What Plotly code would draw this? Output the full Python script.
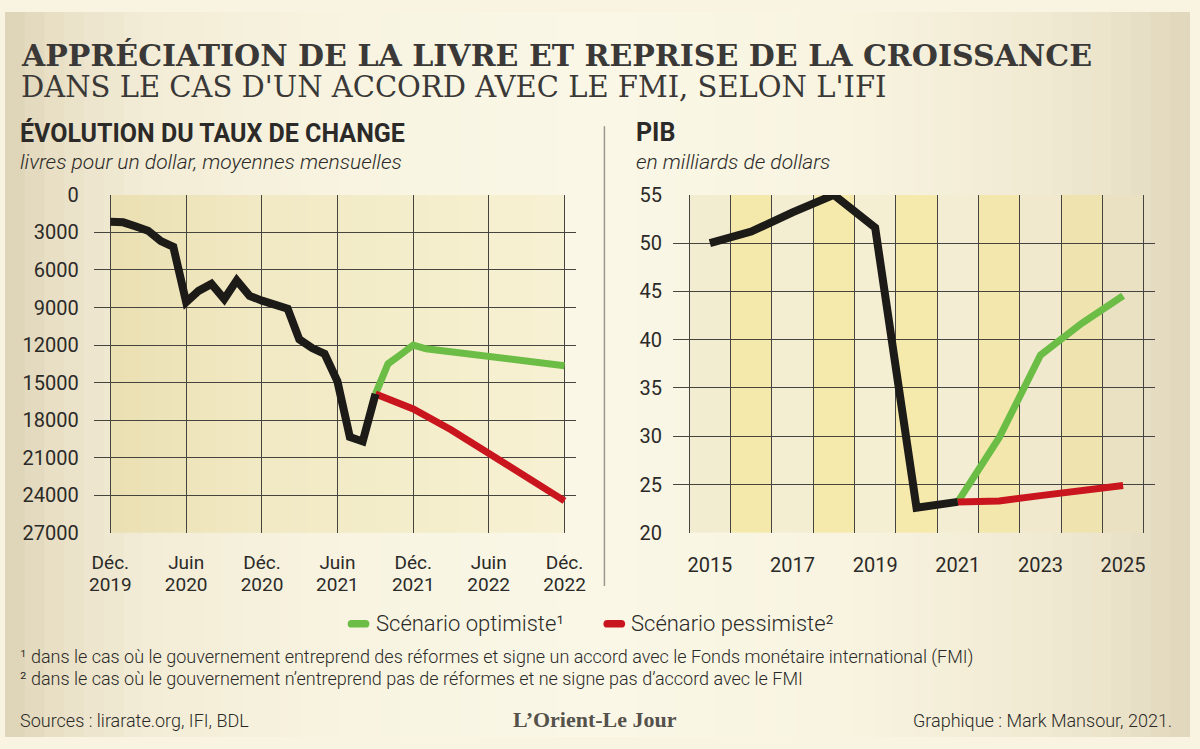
import plotly.graph_objects as go

# ---------------- DATA ----------------
# Left chart: exchange rate (LBP per USD, monthly averages)
fx_months = ["2019-12-01", "2020-01-01", "2020-02-01", "2020-03-01", "2020-04-01", "2020-05-01",
             "2020-06-01", "2020-07-01", "2020-08-01", "2020-09-01", "2020-10-01", "2020-11-01",
             "2020-12-01", "2021-01-01", "2021-02-01", "2021-03-01", "2021-04-01", "2021-05-01",
             "2021-06-01", "2021-07-01", "2021-08-01", "2021-09-01"]
fx_rate = [2150, 2190, 2520, 2860, 3690, 4150, 8580, 7670, 7110, 8320, 6830, 8070,
           8450, 8760, 9100, 11540, 12240, 12700, 14900, 19350, 19700, 15900]

opt_months = ["2021-09-01", "2021-10-01", "2021-11-01", "2021-12-01", "2022-01-01", "2022-06-01", "2022-12-01"]
opt_rate = [15900, 13500, 12750, 12000, 12300, 12880, 13650]

pes_months = ["2021-09-01", "2021-10-01", "2021-11-01", "2021-12-01", "2022-03-01", "2022-06-01",
              "2022-09-01", "2022-12-01"]
pes_rate = [15900, 16300, 16600, 17100, 18750, 20650, 22500, 24450]

fx_tick_dates = ["2019-12-01", "2020-06-01", "2020-12-01", "2021-06-01", "2021-12-01", "2022-06-01", "2022-12-01"]
fx_tick_month = ["Déc.", "Juin", "Déc.", "Juin", "Déc.", "Juin", "Déc."]
fx_tick_year = ["2019", "2020", "2020", "2021", "2021", "2022", "2022"]
fx_yticks = [0, 3000, 6000, 9000, 12000, 15000, 18000, 21000, 24000, 27000]

# Right chart: GDP (billion USD)
gdp_years = [2015, 2016, 2017, 2018, 2019, 2020, 2021]
gdp_hist = [50.0, 51.2, 53.2, 55.0, 51.6, 22.6, 23.2]
scen_years = [2021, 2022, 2023, 2024, 2025]
gdp_opt = [23.2, 29.85, 38.4, 41.7, 44.55]
gdp_pes = [23.2, 23.3, 23.85, 24.35, 24.9]
gdp_xticks = [2015, 2017, 2019, 2021, 2023, 2025]
gdp_yticks = [20, 25, 30, 35, 40, 45, 50, 55]
gdp_columns = list(range(2015, 2026))

# ---------------- STYLE ----------------
W, H = 1200, 749
BLACK = "#1d1b18"
GREEN = "#6cbd45"
RED = "#c9161e"
GRID = "#46443f"
TXT = "#2b2a28"
TICKFONT = dict(family="Roboto", size=20, color=TXT)
XTICKFONT = dict(family="Roboto", size=19, color=TXT)


def px(x):
    return x / W


def py(y):
    return 1 - y / H


def hex2rgb(h):
    h = h.lstrip("#")
    return [int(h[i:i + 2], 16) for i in (0, 2, 4)]


def interp(stops, t):
    for (t0, c0), (t1, c1) in zip(stops[:-1], stops[1:]):
        if t0 <= t <= t1:
            f = 0 if t1 == t0 else (t - t0) / (t1 - t0)
            a, b = hex2rgb(c0), hex2rgb(c1)
            return "rgb(%d,%d,%d)" % tuple(round(a[i] + (b[i] - a[i]) * f) for i in range(3))
    return stops[-1][1]


shapes = []
# paper gradient (vertical strips)
paper_stops = [(0, "#ddd2b6"), (60, "#eae1c8"), (150, "#f3edd7"), (350, "#f8f4e1"), (600, "#faf7e7"),
               (850, "#f8f4e0"), (1050, "#f1ead3"), (1140, "#e9e1c7"), (1200, "#e0d6bb")]
n = 60
for i in range(n):
    x0 = W * i / n
    x1 = W * (i + 1) / n + 1
    c = interp(paper_stops, (x0 + x1) / 2)
    shapes.append(dict(type="rect", xref="paper", yref="paper", x0=px(x0), x1=min(1, px(x1)), y0=0, y1=1,
                       fillcolor=c, line=dict(width=0), layer="below"))

# left plot background gradient between first and last date gridlines
left_stops = [(0, "#eadfb2"), (0.3, "#f1e9c3"), (1, "#f7f1d3")]
d0, d1 = 0.0346, 0.9764
m = 30
for i in range(m):
    a = d0 + (d1 - d0) * i / m
    b = d0 + (d1 - d0) * (i + 1) / m + 0.002
    c = interp(left_stops, (i + 0.5) / m)
    shapes.append(dict(type="rect", xref="x domain", yref="y domain", x0=a, x1=min(b, d1), y0=0, y1=1,
                       fillcolor=c, line=dict(width=0), layer="below"))

# right plot alternating year columns
col_colors = ["#f2ecd0", "#f4e8ab", "#f3edd2", "#f5e9ab", "#f4eed3", "#f5e9ac",
              "#f3eed3", "#f3e7ad", "#f0e9cd", "#efe3b0", "#eae1c3"]
for yr, c in zip(gdp_columns, col_colors):
    shapes.append(dict(type="rect", xref="x2", yref="y2", x0=yr - 0.5, x1=yr + 0.5, y0=20, y1=55,
                       fillcolor=c, line=dict(width=0), layer="below"))

# divider
shapes.append(dict(type="line", xref="paper", yref="paper", x0=px(607), x1=px(607), y0=py(118), y1=py(593),
                   line=dict(color="#9c978c", width=1.5)))


def pill(x0, x1, yc, h, color):
    r = h / 2
    pts = lambda x, y: "%.5f,%.5f" % (px(x), py(y))
    path = ("M " + pts(x0 + r, yc - r) + " L " + pts(x1 - r, yc - r) +
            " Q " + pts(x1, yc - r) + " " + pts(x1, yc) +
            " Q " + pts(x1, yc + r) + " " + pts(x1 - r, yc + r) +
            " L " + pts(x0 + r, yc + r) +
            " Q " + pts(x0, yc + r) + " " + pts(x0, yc) +
            " Q " + pts(x0, yc - r) + " " + pts(x0 + r, yc - r) + " Z")
    return dict(type="path", xref="paper", yref="paper", path=path, fillcolor=color, line=dict(width=0))


shapes.append(pill(347, 369, 632, 8, GREEN))
shapes.append(pill(606, 628, 632, 8, RED))

# ---------------- TRACES ----------------
fig = go.Figure()
line_common = dict(mode="lines", showlegend=False, hoverinfo="skip")
fig.add_trace(go.Scatter(x=opt_months, y=opt_rate, line=dict(color=GREEN, width=7), xaxis="x", yaxis="y", **line_common))
fig.add_trace(go.Scatter(x=pes_months, y=pes_rate, line=dict(color=RED, width=7), xaxis="x", yaxis="y", **line_common))
fig.add_trace(go.Scatter(x=fx_months, y=fx_rate, line=dict(color=BLACK, width=8), xaxis="x", yaxis="y", **line_common))
# invisible anchor for the year-label axis
fig.add_trace(go.Scatter(x=[fx_months[0]], y=[0], mode="markers", marker=dict(opacity=0), xaxis="x3", yaxis="y",
                         showlegend=False, hoverinfo="skip"))

fig.add_trace(go.Scatter(x=scen_years, y=gdp_opt, line=dict(color=GREEN, width=7), xaxis="x2", yaxis="y2", **line_common))
fig.add_trace(go.Scatter(x=scen_years, y=gdp_pes, line=dict(color=RED, width=7), xaxis="x2", yaxis="y2", **line_common))
fig.add_trace(go.Scatter(x=gdp_years, y=gdp_hist, line=dict(color=BLACK, width=8), xaxis="x2", yaxis="y2", **line_common))

YDOM = [0.2817, 0.7477]
XR_LEFT = ["2019-10-22", "2022-12-28"]

fig.update_layout(
    width=W, height=H, margin=dict(l=0, r=0, t=0, b=0),
    paper_bgcolor="#f8f4e1", plot_bgcolor="rgba(0,0,0,0)",
    showlegend=False,
    shapes=shapes,
    xaxis=dict(domain=[0.0749, 0.4816], type="date", range=XR_LEFT, tickmode="array",
               tickvals=fx_tick_dates, ticktext=fx_tick_month, showgrid=True, gridcolor=GRID, gridwidth=1,
               zeroline=False, showline=False, ticks="", tickfont=XTICKFONT, ticklabelstandoff=16,
               anchor="y", fixedrange=True),
    xaxis3=dict(type="date", range=XR_LEFT, overlaying="x", anchor="y", side="bottom", tickmode="array",
                tickvals=fx_tick_dates, ticktext=fx_tick_year, showgrid=False, zeroline=False, showline=False,
                ticks="", tickfont=XTICKFONT, ticklabelstandoff=38, fixedrange=True),
    yaxis=dict(domain=YDOM, range=[27000, 0], tickmode="array", tickvals=fx_yticks,
               ticktext=[str(v) for v in fx_yticks], showgrid=True, gridcolor=GRID, gridwidth=1,
               zeroline=False, showline=False, ticks="", tickfont=TICKFONT, ticklabelstandoff=14,
               anchor="x", fixedrange=True),
    xaxis2=dict(domain=[0.5638, 0.9704], range=[2014.11, 2025.77], tickmode="array", tickvals=gdp_xticks,
                ticktext=[str(v) for v in gdp_xticks], showgrid=False, zeroline=False, showline=False,
                ticks="", tickfont=TICKFONT, ticklabelstandoff=18, anchor="y2",
                minor=dict(tick0=2014.5, dtick=1, showgrid=True, gridcolor=GRID, gridwidth=1, ticks=""),
                fixedrange=True),
    yaxis2=dict(domain=YDOM, range=[20, 55], tickmode="array", tickvals=gdp_yticks,
                ticktext=[str(v) for v in gdp_yticks], showgrid=True, gridcolor=GRID, gridwidth=1,
                zeroline=False, showline=False, ticks="", tickfont=TICKFONT, ticklabelstandoff=10,
                anchor="x2", fixedrange=True),
)


def note(text, x, y, size, family="Roboto", color=TXT, weight="normal", style="normal", xanchor="left"):
    fig.add_annotation(text=text, xref="paper", yref="paper", x=px(x), y=py(y), xanchor=xanchor,
                       yanchor="middle", showarrow=False,
                       font=dict(family=family, size=size, color=color, weight=weight, style=style))


note("APPRÉCIATION DE LA LIVRE ET REPRISE DE LA CROISSANCE", 14, 45, 30, family="DejaVu Serif",
     color="#3a3937", weight="bold")
note("DANS LE CAS D'UN ACCORD AVEC LE FMI, SELON L'IFI", 14, 77, 29, family="DejaVu Serif", color="#3a3937")
note("ÉVOLUTION DU TAUX DE CHANGE", 13, 125, 25, weight="bold")
note("livres pour un dollar, moyennes mensuelles", 13, 155, 21, weight=300, style="italic")
note("PIB", 637, 125, 25, weight="bold")
note("en milliards de dollars", 637, 155, 21, weight=300, style="italic")

note("Scénario optimiste¹", 374, 632, 22, weight=300)
note("Scénario pessimiste²", 632, 632, 22, weight=300)

note("¹ dans le cas où le gouvernement entreprend des réformes et signe un accord avec le Fonds monétaire international (FMI)",
     13, 666, 18, weight=300)
note("² dans le cas où le gouvernement n’entreprend pas de réformes et ne signe pas d’accord avec le FMI",
     13, 689, 18, weight=300)

note("Sources : lirarate.org, IFI, BDL", 13, 732, 18, weight=300)
note("Graphique : Mark Mansour, 2021.", 1184, 732, 18, weight=300, xanchor="right")
note("L’Orient-Le Jour", 597, 731, 22, family="Liberation Serif", color="#55514b", weight="bold",
     xanchor="center")

fig.write_html("out.html")
